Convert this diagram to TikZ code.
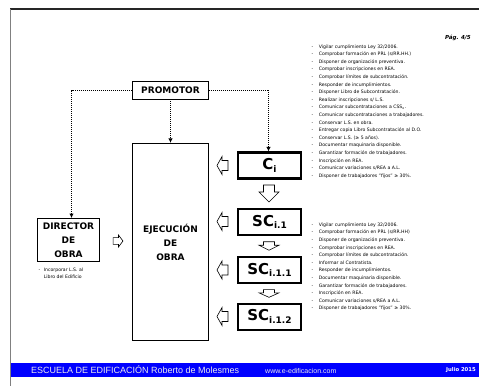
\documentclass[tikz,border=0pt]{standalone}
\usepackage{fontspec}
\setmainfont{DejaVu Sans}
\newfontfamily\arialfont{Liberation Sans}
\usetikzlibrary{positioning,arrows.meta}

\newcommand{\scname}[2]{{\fontsize{15}{15}\selectfont #1}\raisebox{-2.5pt}{\fontsize{9}{9}\selectfont #2}}

\tikzset{
  dnarr/.pic={\draw[line width=0.6pt] (-5.5,-8.5) -- (5.5,-8.5) -- (5.5,-1.5) -- (10,-1.5) -- (0,8.5) -- (-10,-1.5) -- (-5.5,-1.5) -- cycle;},
  ltarr/.pic={\draw[line width=0.6pt] (-5.5,0) -- (-0.5,-9) -- (-0.5,-5) -- (5.5,-5) -- (5.5,5) -- (-0.5,5) -- (-0.5,9) -- cycle;}
}

\begin{document}
\begin{tikzpicture}[x=1pt,y=-1pt,>={Latex[length=4.5pt,width=4.5pt]}]
\tikzstyle{thinbox}=[draw, line width=0.7pt, font=\fontsize{9}{14}\selectfont\bfseries, inner sep=0pt, align=center]
\tikzstyle{thickbox}=[draw, line width=2.2pt, minimum width=63pt, minimum height=26pt, inner sep=0pt, font=\bfseries]
\tikzstyle{dots}=[densely dotted, line width=1pt, ->]
\tikzstyle{listtxt}=[anchor=north west, inner sep=0pt, font=\fontsize{4.6}{7.6}\selectfont]
\useasboundingbox (0,0) rectangle (479,386);

% page frame
\draw[line width=1.3pt, black!85] (10,9) -- (479,9);
\node[anchor=east, inner sep=0pt, font=\fontsize{5.5}{5.5}\selectfont\bfseries\itshape] (pag) at (471,38) {Pág. 4/5};

% boxes
\node[thinbox, minimum width=76pt, minimum height=18pt] (promotor) at (170.5,90) {PROMOTOR};
\node[thinbox, minimum width=76pt, minimum height=197.5pt] (ejec) at (170.5,242) {EJECUCIÓN\\DE\\OBRA};
\node[thinbox, line width=0.9pt, minimum width=62pt, minimum height=43pt] (director) at (68.5,240) {DIRECTOR\\DE\\OBRA};

\node[thickbox] (ci) at (269.5,165.5) {\scname{C}{i}};
\node[thickbox, below=28pt of ci] (sc1) {\scname{SC}{i.1}};
\node[thickbox, below=20pt of sc1] (sc11) {\scname{SC}{i.1.1}};
\node[thickbox, below=18.5pt of sc11] (sc12) {\scname{SC}{i.1.2}};

% dotted links
\draw[dots] (promotor.west) -| ([xshift=3pt]director.north);
\draw[dots] (promotor.south) -- (ejec.north);
\draw[dots] (promotor.east) -| ([xshift=-1pt]ci.north);

% block arrows
\pic at (269,193.5) {dnarr};
\pic[yscale=0.5] at (269,246) {dnarr};
\pic[yscale=0.45] at (269,293.5) {dnarr};
\pic at (222.5,165.5) {ltarr};
\pic at (222.5,221.5) {ltarr};
\pic at (222.5,270) {ltarr};
\pic at (222.5,316.5) {ltarr};
\pic[xscale=-0.9, yscale=0.67] at (118,241) {ltarr};

% lists
\node[listtxt] (lista1) at (311.5,42.5) {\begin{tabular}{@{}l@{\hspace{5.5pt}}l@{}}
- & Vigilar cumplimiento Ley 32/2006.\\
- & Comprobar formación en PRL (s/RR.HH.)\\
- & Disponer de organización preventiva.\\
- & Comprobar inscripciones en REA.\\
- & Comprobar límites de subcontratación.\\
- & Responder de incumplimientos.\\
- & Disponer Libro de Subcontratación.\\
- & Realizar inscripciones s/ L.S.\\
- & Comunicar subcontrataciones a CSS\textsubscript{o}.\\
- & Comunicar subcontrataciones a trabajadores.\\
- & Conservar L.S. en obra.\\
- & Entregar copia Libro Subcontratación al D.O.\\
- & Conservar L.S. (≥ 5 años).\\
- & Documentar maquinaria disponible.\\
- & Garantizar formación de trabajadores.\\
- & Inscripción en REA.\\
- & Comunicar variaciones s/REA a A.L.\\
- & Disponer de trabajadores "fijos" ≥ 30\%.
\end{tabular}};
\node[listtxt] (lista2) at (311.5,220.7) {\begin{tabular}{@{}l@{\hspace{5.5pt}}l@{}}
- & Vigilar cumplimiento Ley 32/2006.\\
- & Comprobar formación en PRL (s/RR.HH)\\
- & Disponer de organización preventiva.\\
- & Comprobar inscripciones en REA.\\
- & Comprobar límites de subcontratación.\\
- & Informar al Contratista.\\
- & Responder de incumplimientos.\\
- & Documentar maquinaria disponible.\\
- & Garantizar formación de trabajadores.\\
- & Inscripción en REA.\\
- & Comunicar variaciones s/REA a A.L.\\
- & Disponer de trabajadores "fijos" ≥ 30\%.
\end{tabular}};
\node[listtxt] (listad) at (38.5,265.5) {\begin{tabular}{@{}l@{\hspace{3.5pt}}l@{}}
- & Incorporar L.S. al\\
 & Libro del Edificio
\end{tabular}};

% footer
\fill[blue] (10,363) rectangle (479,377);
\node[anchor=west, inner sep=0pt, text=white!92!black, font=\arialfont\fontsize{9}{9}\selectfont] (escuela) at (31,370) {ESCUELA DE EDIFICACIÓN Roberto de Molesmes};
\node[anchor=west, inner sep=0pt, text=white!92!black, font=\arialfont\fontsize{7}{7}\selectfont] (web) at (265,370.5) {www.e-edificacion.com};
\node[anchor=east, inner sep=0pt, text=white, font=\fontsize{5.3}{5.3}\selectfont\bfseries] (fecha) at (476,370.5) {Julio 2015};
\draw[line width=0.8pt, gray] (10,9) -- (10,386);
\end{tikzpicture}
\end{document}
